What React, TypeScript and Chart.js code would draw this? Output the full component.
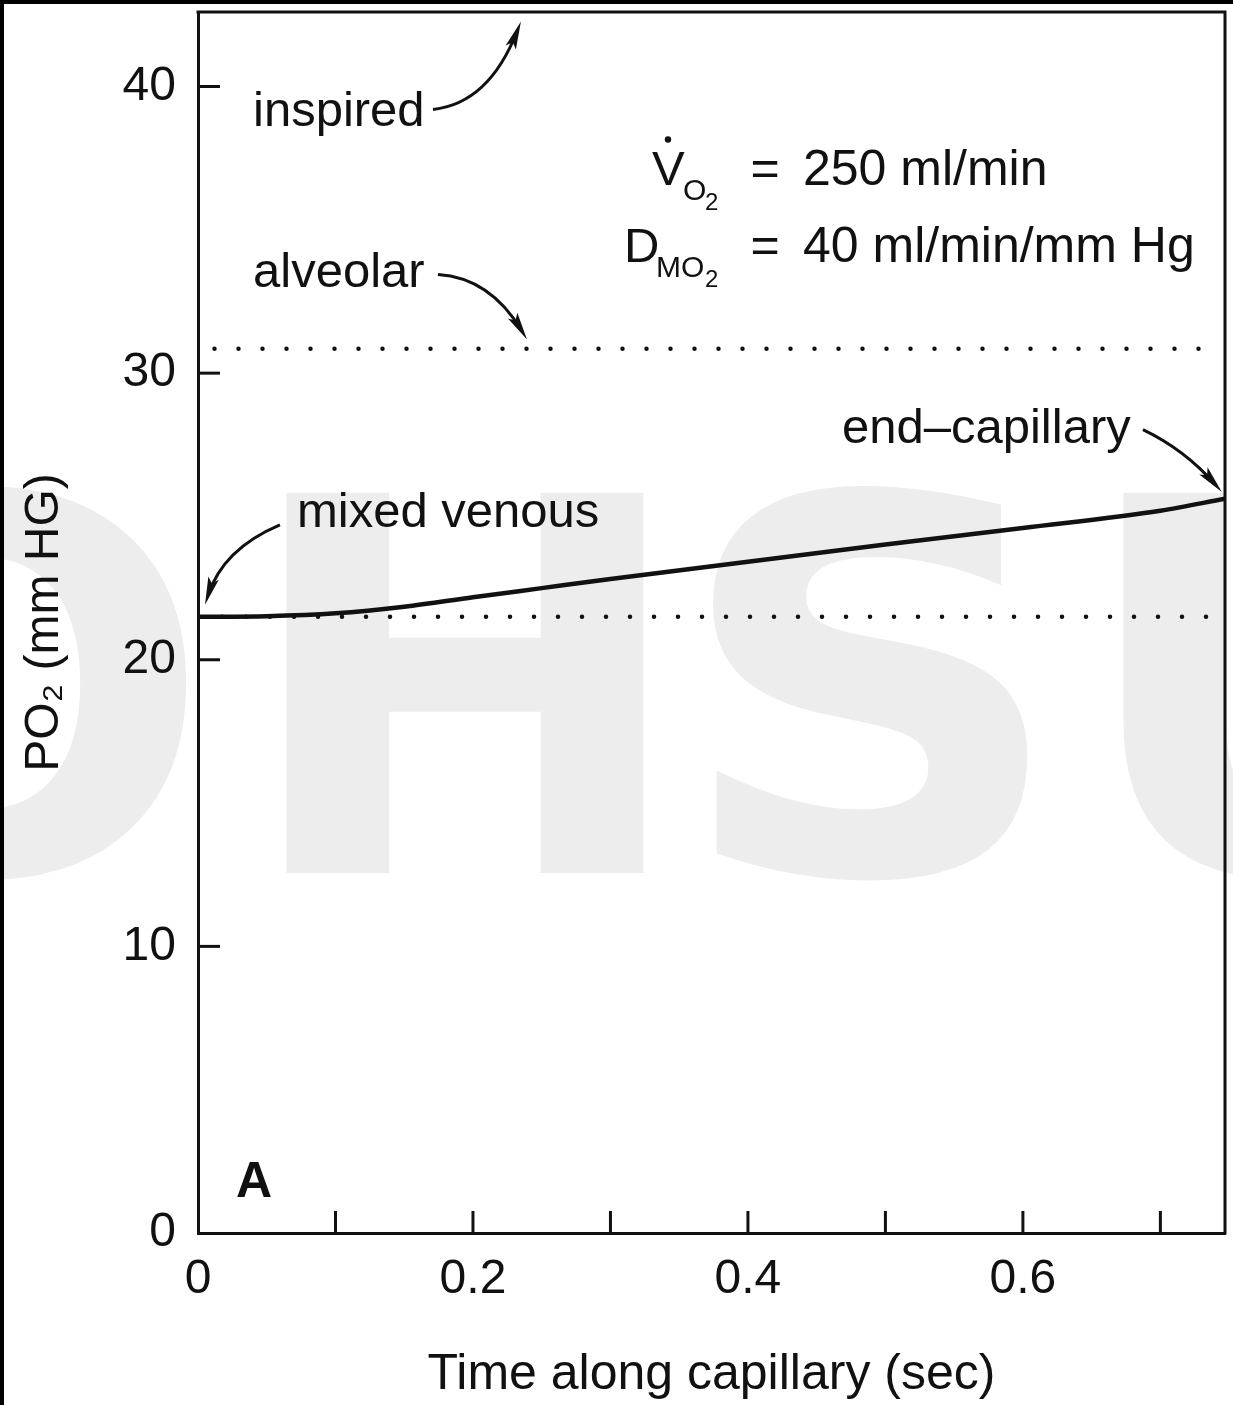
import React, { useEffect, useRef } from "react";
import { Chart, registerables } from "chart.js";

Chart.register(...registerables);

// ---------- data ----------
const TIME_SEC = [0, 0.05, 0.1, 0.15, 0.2, 0.25, 0.3, 0.4, 0.5, 0.6, 0.7, 0.747];
const PO2_CAPILLARY = [21.5, 21.52, 21.62, 21.85, 22.18, 22.5, 22.82, 23.42, 24.02, 24.6, 25.2, 25.62];
const ALVEOLAR_PO2 = 30.85;
const MIXED_VENOUS_PO2 = 21.5;
const INSPIRED_PO2 = 42.6;
const REF_LINE_X = [0.012, 0.74];
const X_MIN = 0;
const X_MAX = 0.747;
const X_TICKS = [0, 0.1, 0.2, 0.3, 0.4, 0.5, 0.6, 0.7];
const X_TICK_LABELS = ["0", "", "0.2", "", "0.4", "", "0.6", ""];
const Y_TICKS = [0, 10, 20, 30, 40];
const Y_TICK_LABELS = ["0", "10", "20", "30", "40"];
const X_TITLE = "Time along capillary (sec)";
const Y_TITLE = "PO₂ (mm HG)";

// annotation labels (data coordinates)
const LABEL_TEXTS = ["inspired", "alveolar", "mixed venous", "end–capillary"];
const LABEL_X = [0.04, 0.04, 0.072, 0.4684];
const LABEL_Y = [38.64, 33.02, 24.64, 27.55];
// arrows: from / via / to (data coordinates)
const ARROW_FROM = [[0.1709, 39.2], [0.1745, 33.44], [0.0596, 24.71], [0.6873, 28.03]];
const ARROW_VIA = [[0.2116, 39.41], [0.2124, 33.33], [0.0182, 23.87], [0.7178, 27.33]];
const ARROW_TO = [[0.2349, 42.27], [0.2393, 31.17], [0.0051, 21.92], [0.7447, 25.85]];
// equation block
const EQ_X = 0.4124;
const EQ_Y = [36.58, 33.89];
const EQ_VALUES = ["250 ml/min", "40 ml/min/mm Hg"];
const PANEL_LABEL = "A";
const PANEL_X = 0.0276;
const PANEL_Y = 1.26;

const FONT = "'Liberation Sans', Arial, Helvetica, sans-serif";
const INK = "#111111";

const backgroundPlugin = {
  id: "scanBackground",
  beforeDraw(chart: any) {
    const { ctx, width, height } = chart;
    ctx.save();
    ctx.fillStyle = "#ffffff";
    ctx.fillRect(0, 0, width, height);
    // watermark
    ctx.fillStyle = "#ededed";
    ctx.textAlign = "left";
    ctx.textBaseline = "alphabetic";
    ctx.font = `bold 500px 'DejaVu Sans', sans-serif`;
    const mH = ctx.measureText("H");
    const size = (500 * 383) / mH.actualBoundingBoxAscent;
    ctx.font = `bold ${size}px 'DejaVu Sans', sans-serif`;
    const ink = (ch: string) => {
      const m = ctx.measureText(ch);
      return { l: m.actualBoundingBoxLeft, w: m.actualBoundingBoxLeft + m.actualBoundingBoxRight };
    };
    const sx = 367 / ink("H").w;
    const baseline = 873;
    const letters: [string, number, boolean][] = [
      ["O", 193, true],
      ["H", 279, false],
      ["S", 708, false],
      ["U", 1116, false],
    ];
    for (const [ch, pos, isRight] of letters) {
      const k = ink(ch);
      const left = isRight ? pos - k.w * sx : pos;
      ctx.save();
      ctx.translate(left, baseline);
      ctx.scale(sx, 1);
      ctx.fillText(ch, k.l, 0);
      ctx.restore();
    }
    // scan edges
    ctx.fillStyle = "#000000";
    ctx.fillRect(0, 0, width, 4);
    ctx.fillRect(0, 0, 4, height);
    ctx.restore();
  },
};

const overlayPlugin = {
  id: "overlay",
  afterDraw(chart: any) {
    const { ctx, chartArea: ca } = chart;
    const xs = chart.scales.x;
    const ys = chart.scales.y;
    const px = (v: number) => xs.getPixelForValue(v);
    const py = (v: number) => ys.getPixelForValue(v);
    ctx.save();
    ctx.strokeStyle = INK;
    ctx.fillStyle = INK;
    ctx.lineWidth = 3;
    ctx.lineCap = "butt";
    // top & right frame
    ctx.beginPath();
    ctx.moveTo(ca.left - 1.5, ca.top);
    ctx.lineTo(ca.right, ca.top);
    ctx.lineTo(ca.right, ca.bottom + 1.5);
    ctx.stroke();
    // inward ticks
    for (const t of xs.ticks) {
      if (t.value === 0) continue;
      const x = px(t.value);
      ctx.beginPath();
      ctx.moveTo(x, ca.bottom);
      ctx.lineTo(x, ca.bottom - 22);
      ctx.stroke();
    }
    for (const t of ys.ticks) {
      if (t.value === 0) continue;
      const y = py(t.value);
      ctx.beginPath();
      ctx.moveTo(ca.left, y);
      ctx.lineTo(ca.left + 22, y);
      ctx.stroke();
    }
    // labels
    ctx.textAlign = "left";
    ctx.textBaseline = "alphabetic";
    ctx.font = `49px ${FONT}`;
    LABEL_TEXTS.forEach((s, i) => ctx.fillText(s, px(LABEL_X[i]), py(LABEL_Y[i])));
    // arrows
    ctx.lineWidth = 3;
    for (let i = 0; i < ARROW_FROM.length; i++) {
      const p0 = { x: px(ARROW_FROM[i][0]), y: py(ARROW_FROM[i][1]) };
      const p1 = { x: px(ARROW_VIA[i][0]), y: py(ARROW_VIA[i][1]) };
      const p2 = { x: px(ARROW_TO[i][0]), y: py(ARROW_TO[i][1]) };
      const ang = Math.atan2(p2.y - p1.y, p2.x - p1.x);
      const L = 28;
      const W = 5.5;
      const c = Math.cos(ang);
      const s = Math.sin(ang);
      ctx.beginPath();
      ctx.moveTo(p0.x, p0.y);
      ctx.quadraticCurveTo(p1.x, p1.y, p2.x - c * 10, p2.y - s * 10);
      ctx.stroke();
      ctx.beginPath();
      ctx.moveTo(p2.x, p2.y);
      ctx.lineTo(p2.x - L * c + W * s, p2.y - L * s - W * c);
      ctx.lineTo(p2.x - L * 0.8 * c, p2.y - L * 0.8 * s);
      ctx.lineTo(p2.x - L * c - W * s, p2.y - L * s + W * c);
      ctx.closePath();
      ctx.fill();
    }
    // equation block
    const ex = px(EQ_X);
    const y1 = py(EQ_Y[0]);
    const y2 = py(EQ_Y[1]);
    ctx.font = `49px ${FONT}`;
    ctx.fillText("V", ex - 113, y1);
    ctx.beginPath();
    ctx.arc(ex - 97, y1 - 45, 3.2, 0, Math.PI * 2);
    ctx.fill();
    ctx.fillText("D", ex - 141, y2);
    ctx.font = `30px ${FONT}`;
    ctx.fillText("O", ex - 82, y1 + 15);
    ctx.fillText("MO", ex - 109, y2 + 15);
    ctx.font = `24px ${FONT}`;
    ctx.fillText("2", ex - 60, y1 + 25);
    ctx.fillText("2", ex - 60, y2 + 25);
    ctx.font = `50px ${FONT}`;
    ctx.textAlign = "center";
    ctx.fillText("=", ex, y1);
    ctx.fillText("=", ex, y2);
    ctx.textAlign = "left";
    ctx.fillText(EQ_VALUES[0], ex + 38, y1);
    ctx.fillText(EQ_VALUES[1], ex + 38, y2);
    // panel label
    ctx.font = `bold 50px ${FONT}`;
    ctx.fillText(PANEL_LABEL, px(PANEL_X), py(PANEL_Y));
    ctx.restore();
  },
};

export default function App() {
  const canvasRef = useRef<HTMLCanvasElement | null>(null);

  useEffect(() => {
    document.body.style.margin = "0";
    const canvas = canvasRef.current;
    if (!canvas) return;
    const curve = TIME_SEC.map((t, i) => ({ x: t, y: PO2_CAPILLARY[i] }));
    const alveolar = REF_LINE_X.map((x) => ({ x, y: ALVEOLAR_PO2 }));
    const venous = [X_MIN, REF_LINE_X[1]].map((x) => ({ x, y: MIXED_VENOUS_PO2 }));
    const chart = new Chart(canvas, {
      type: "line",
      data: {
        datasets: [
          {
            label: "capillary",
            data: curve,
            borderColor: INK,
            borderWidth: 4.5,
            pointRadius: 0,
            cubicInterpolationMode: "monotone",
            fill: false,
          },
          {
            label: "alveolar",
            data: alveolar,
            borderColor: INK,
            borderWidth: 4.5,
            borderDash: [0, 24],
            borderCapStyle: "round",
            pointRadius: 0,
            fill: false,
          },
          {
            label: "mixed venous",
            data: venous,
            borderColor: INK,
            borderWidth: 4.5,
            borderDash: [0, 24],
            borderCapStyle: "round",
            pointRadius: 0,
            fill: false,
          },
        ],
      },
      options: {
        responsive: false,
        devicePixelRatio: 1,
        animation: false,
        layout: { autoPadding: false, padding: { left: 4, right: 8, top: 12, bottom: 0 } },
        plugins: {
          legend: { display: false },
          tooltip: { enabled: false },
        },
        scales: {
          x: {
            type: "linear",
            min: X_MIN,
            max: X_MAX,
            afterBuildTicks: (scale: any) => {
              scale.ticks = X_TICKS.map((v) => ({ value: v }));
            },
            afterFit: (scale: any) => {
              scale.height = 172;
              scale.paddingLeft = 0;
              scale.paddingRight = 0;
              scale.paddingTop = 0;
              scale.paddingBottom = 0;
            },
            grid: { display: false, drawTicks: false },
            border: { display: true, color: INK, width: 3 },
            ticks: {
              autoSkip: false,
              maxRotation: 0,
              padding: 18,
              color: INK,
              font: { family: FONT, size: 48 },
              callback: (_v: any, i: number) => X_TICK_LABELS[i],
            },
            title: {
              display: true,
              text: X_TITLE,
              color: INK,
              font: { family: FONT, size: 50 },
              padding: { top: 0, bottom: 0 },
            },
          },
          y: {
            type: "linear",
            min: 0,
            max: INSPIRED_PO2,
            afterBuildTicks: (scale: any) => {
              scale.ticks = Y_TICKS.map((v) => ({ value: v }));
            },
            afterFit: (scale: any) => {
              scale.width = 194;
              scale.paddingLeft = 0;
              scale.paddingRight = 0;
              scale.paddingTop = 0;
              scale.paddingBottom = 0;
            },
            grid: { display: false, drawTicks: false },
            border: { display: true, color: INK, width: 3 },
            ticks: {
              padding: 22,
              color: INK,
              font: { family: FONT, size: 48 },
              callback: (_v: any, i: number) => Y_TICK_LABELS[i],
            },
            title: {
              display: true,
              text: Y_TITLE,
              color: INK,
              font: { family: FONT, size: 48 },
              padding: { top: 12, bottom: 0 },
            },
          },
        },
      },
      plugins: [backgroundPlugin, overlayPlugin],
    } as any);
    return () => chart.destroy();
  }, []);

  return (
    <div style={{ width: 1233, height: 1405, position: "relative" }}>
      <canvas ref={canvasRef} width={1233} height={1405} style={{ display: "block" }} />
    </div>
  );
}
